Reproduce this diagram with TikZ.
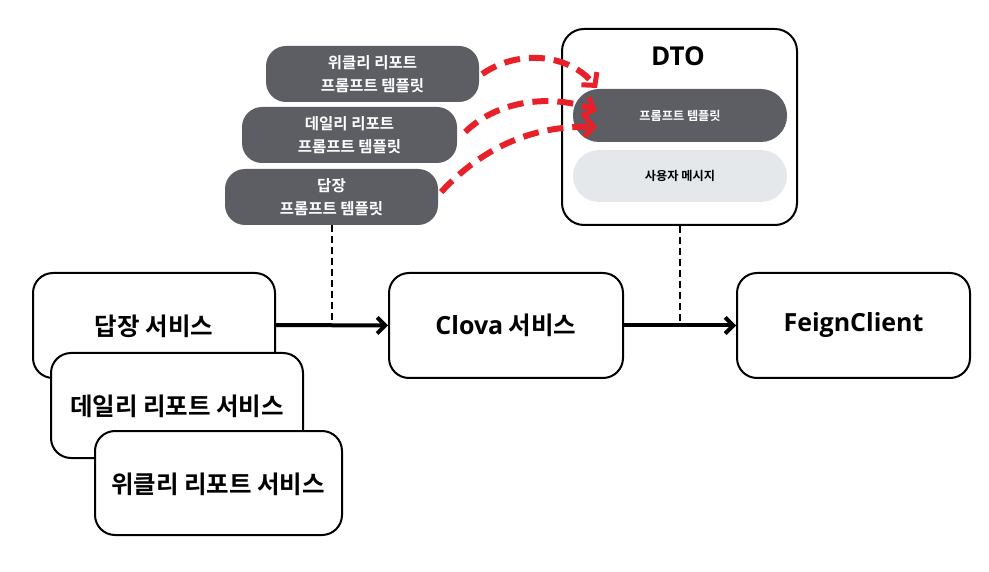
\documentclass[tikz,border=0pt]{standalone}
\usepackage{fontspec}
\setmainfont{Noto Sans CJK KR}[BoldFont={Noto Sans CJK KR Bold}]
\newfontfamily\lat{Open Sans}
\usetikzlibrary{arrows.meta}
\definecolor{pill}{HTML}{5C5E63}
\definecolor{lightpill}{HTML}{E5E8EB}
\definecolor{redarr}{HTML}{E8202A}
\tikzset{
  svc/.style={draw=black, line width=2pt, fill=white, rounded corners=20pt, font=\bfseries\fontsize{24.5}{28}\selectfont},
  tpl/.style={fill=pill, rounded corners=20pt, text=white, font=\bfseries\fontsize{15.5}{23}\selectfont, align=center},
  flow/.style={line width=4pt, -{Straight Barb[length=8pt,width=16pt,line width=4pt]}},
  link/.style={line width=2.2pt, dash pattern=on 7pt off 4pt},
  redcurve/.style={redarr, line width=6pt, dash pattern=on 16pt off 9pt, -{Straight Barb[length=9pt,width=20pt,line width=5pt]}}
}
\begin{document}
\begin{tikzpicture}[x=1pt,y=-1pt]
\useasboundingbox (0,0) rectangle (989,572);
% service boxes
\draw[svc] (33,273) rectangle (275,378);
\node[font=\bfseries\fontsize{24.5}{28}\selectfont] (reply) at (154,326) {답장 서비스};
\draw[svc] (51,353) rectangle (303,458);
\node[font=\bfseries\fontsize{24.5}{28}\selectfont] (daily) at (177,406) {데일리 리포트 서비스};
\draw[svc] (95,431) rectangle (342,535);
\node[font=\bfseries\fontsize{24.5}{28}\selectfont] (weekly) at (218,484) {위클리 리포트 서비스};
\coordinate (replyE) at (275,325);
% clova and feign
\node[svc, minimum width=234pt, minimum height=105pt] (clova) at (506,325.5) {{\lat\fontsize{25}{28}\selectfont Clova} 서비스};
\node[svc, minimum width=233pt, minimum height=105pt, font=\lat\bfseries\fontsize{25}{28}\selectfont] (feign) at (853.5,325.5) {FeignClient};
% DTO
\node[draw=black, line width=2pt, rounded corners=22pt, minimum width=235pt, minimum height=196pt] (dto) at (679.5,127) {};
\node[font=\lat\bfseries\fontsize{26}{30}\selectfont] (dtot) at (678,56) {DTO};
\node[fill=pill, rounded corners=26pt, minimum width=214pt, minimum height=53pt, text=white, font=\bfseries\fontsize{12.2}{14}\selectfont] (ptpl) at (680,115.5) {프롬프트 템플릿};
\node[fill=lightpill, rounded corners=26pt, minimum width=214pt, minimum height=52pt, font=\bfseries\fontsize{12.2}{14}\selectfont] (umsg) at (680,176) {사용자 메시지};
% templates
\node[tpl, minimum width=213pt, minimum height=56pt] (tw) at (372.5,74) {위클리 리포트\\프롬프트 템플릿};
\node[tpl, minimum width=215pt, minimum height=56pt] (td) at (349.5,135) {데일리 리포트\\프롬프트 템플릿};
\node[tpl, minimum width=213pt, minimum height=56pt] (tr) at (331.5,197) {답장\\프롬프트 템플릿};
% flows
\coordinate (j1) at (332,325);
\coordinate (j2) at (680,325);
\draw[flow] (replyE) -- (clova.west);
\draw[flow] (clova.east) -- (feign.west);
\draw[link] (332,225) -- (j1);
\draw[link] (dto.south -| j2) -- (j2);
% red curves
\coordinate (a1) at (597,88);
\coordinate (a2) at (597,111);
\coordinate (a3) at (597,127);
\draw[redcurve] (tw.east) ++(3,0) .. controls (520,48) and (570,55) .. (a1);
\draw[redcurve] (td.east) ++(8,-3) .. controls (500,98) and (555,95) .. (a2);
\draw[redcurve] (tr.east) ++(3,-5) .. controls (480,150) and (530,125) .. (a3);
\end{tikzpicture}
\end{document}
